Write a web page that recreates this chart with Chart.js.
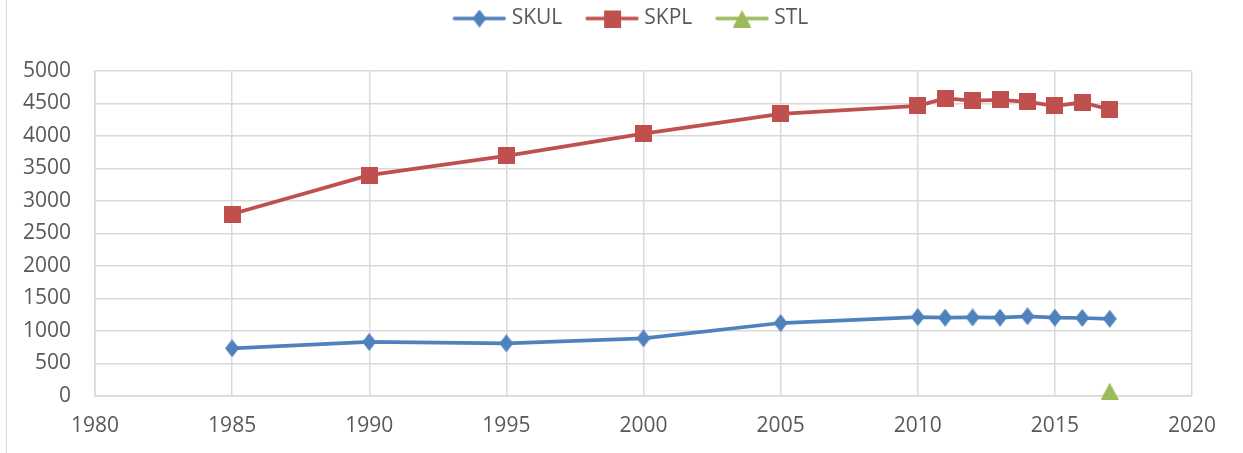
<!DOCTYPE html>
<html>
<head>
<meta charset="utf-8">
<script src="https://cdn.jsdelivr.net/npm/chart.js@4.4.1/dist/chart.umd.min.js"></script>
<style>
  html, body { margin: 0; padding: 0; background: #fff; }
  #wrap { position: relative; width: 1243px; height: 453px; }
  #edge { position: absolute; left: 6px; top: 0; width: 1px; height: 453px; background: #d9d9d9; }
  canvas { display: block; }
</style>
</head>
<body>
<div id="wrap">
  <div id="edge"></div>
  <canvas id="chart" width="1243" height="453"></canvas>
</div>
<script>
// Jahre + Werte
const YEARS = [1985, 1990, 1995, 2000, 2005, 2010, 2011, 2012, 2013, 2014, 2015, 2016, 2017];
const SKUL  = [734, 831, 810, 887, 1123, 1215, 1205, 1208, 1205, 1226, 1205, 1200, 1188];
const SKPL  = [2800, 3397, 3694, 4037, 4340, 4463, 4577, 4546, 4555, 4525, 4463, 4515, 4408];
const STL_YEARS = [2017];
const STL   = [75];

const X_MIN = 1980, X_MAX = 2020, X_STEP = 5;
const Y_MIN = 0, Y_MAX = 5000, Y_STEP = 500;

const BLUE = "#4f81bd", RED = "#c0504d", GREEN = "#9bbb59";
const TEXT = "#595959", GRID = "#d9d9d9";
const FONT = { family: "'Open Sans', sans-serif", size: 21 };

// Marker als kleine Canvas-Bilder (Excel-Raute ist höher als breit)
function marker(kind, color) {
  const c = document.createElement("canvas");
  const g = c.getContext("2d");
  if (kind === "diamond") {
    c.width = 14; c.height = 18; g.fillStyle = color; g.beginPath();
    g.moveTo(7, 0); g.lineTo(14, 9); g.lineTo(7, 18); g.lineTo(0, 9);
  } else if (kind === "square") {
    c.width = 17; c.height = 17; g.fillStyle = color; g.beginPath();
    g.rect(0, 0, 17, 17);
  } else {
    c.width = 18; c.height = 17; g.fillStyle = color; g.beginPath();
    g.moveTo(9, 0); g.lineTo(18, 17); g.lineTo(0, 17);
  }
  g.closePath();
  g.fill();
  return c;
}

// Legendensymbol: Linie mit Marker in der Mitte (links transparenter Rand für Abstand)
function legendIcon(m, color) {
  const c = document.createElement("canvas");
  c.width = 74; c.height = 18;
  const g = c.getContext("2d");
  g.strokeStyle = color; g.lineWidth = 3.5; g.lineCap = "round";
  g.beginPath(); g.moveTo(22, 9); g.lineTo(72, 9); g.stroke();
  g.drawImage(m, 47 - m.width / 2, 9 - m.height / 2);
  return c;
}

const mSkul = marker("diamond", BLUE);
const mSkpl = marker("square", RED);
const mStl  = marker("triangle", GREEN);
const ICONS = [legendIcon(mSkul, BLUE), legendIcon(mSkpl, RED), legendIcon(mStl, GREEN)];

const pts = (xs, ys) => xs.map((x, i) => ({ x, y: ys[i] }));

function series(label, data, color, m) {
  return {
    label, data,
    borderColor: color, backgroundColor: color,
    borderWidth: 3.75, pointStyle: m, pointRadius: 8, pointHoverRadius: 8,
    showLine: true, tension: 0, clip: false
  };
}

// Legende: feste Höhe bis zur Plotfläche, etwas nach rechts gerückt wie im Original
const legendTweak = {
  id: "legendTweak",
  beforeInit(chart) {
    const lg = chart.legend;
    const fit = lg.fit, draw = lg.draw;
    lg.fit = function () { fit.call(this); this.height = 71; };
    lg.draw = function () {
      const ctx = this.ctx;
      ctx.save(); ctx.translate(27, 0); draw.call(this); ctx.restore();
    };
  }
};

new Chart(document.getElementById("chart"), {
  type: "scatter",
  data: {
    datasets: [
      series("SKUL", pts(YEARS, SKUL), BLUE, mSkul),
      series("SKPL", pts(YEARS, SKPL), RED, mSkpl),
      series("STL", pts(STL_YEARS, STL), GREEN, mStl)
    ]
  },
  options: {
    responsive: false, animation: false,
    layout: { padding: { left: 0, right: 51, top: 0, bottom: 0 } },
    scales: {
      x: {
        type: "linear", min: X_MIN, max: X_MAX,
        afterFit: s => { s.height = 57; },
        ticks: { stepSize: X_STEP, color: TEXT, font: FONT, padding: 17, callback: v => String(v) },
        grid: { color: GRID, lineWidth: 1.5, drawTicks: false },
        border: { color: GRID, width: 1.5 }
      },
      y: {
        min: Y_MIN, max: Y_MAX,
        afterFit: s => { s.width = 95; },
        ticks: { stepSize: Y_STEP, color: TEXT, font: FONT, padding: 24, callback: v => String(v) },
        grid: { color: GRID, lineWidth: 1.5, drawTicks: false },
        border: { color: GRID, width: 1.5 }
      }
    },
    plugins: {
      tooltip: { enabled: false },
      legend: {
        position: "top",
        labels: {
          color: TEXT, font: FONT, padding: 8,
          usePointStyle: true, pointStyleWidth: 63.5,
          generateLabels: chart => chart.data.datasets.map((ds, i) => ({
            text: ds.label, pointStyle: ICONS[i], fontColor: TEXT,
            fillStyle: "transparent", strokeStyle: "transparent", lineWidth: 0,
            hidden: false, datasetIndex: i
          }))
        }
      }
    }
  },
  plugins: [legendTweak]
});
</script>
</body>
</html>
